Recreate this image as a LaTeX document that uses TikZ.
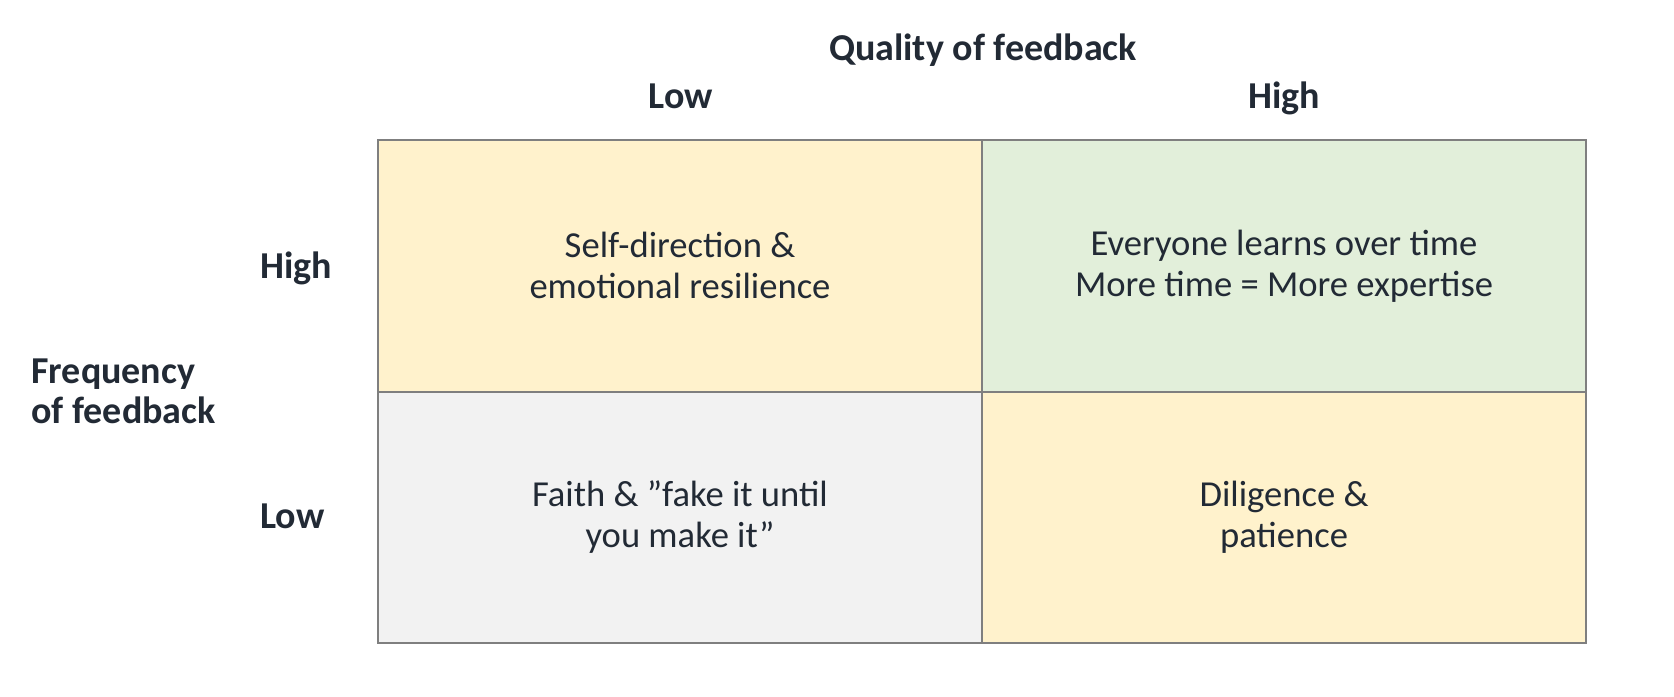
\documentclass[tikz,border=0pt]{standalone}
\usepackage{fontspec}
\setmainfont{Carlito}
\definecolor{txt}{HTML}{222A35}
\definecolor{yel}{HTML}{FFF2CC}
\definecolor{grn}{HTML}{E2EFDA}
\definecolor{gry}{HTML}{F2F2F2}
\definecolor{edge}{HTML}{7F7F7F}
\tikzset{
  cell/.style={draw=edge, line width=1pt, minimum width=302pt, minimum height=125.75pt,
    inner sep=0pt, align=center, text=txt, font=\fontsize{18.3}{20.5}\selectfont},
  lab/.style={text=txt, font=\bfseries\fontsize{19}{20}\selectfont, inner sep=0pt},
}
\begin{document}
\begin{tikzpicture}[x=0.5pt,y=-0.5pt]
\useasboundingbox (0,0) rectangle (1674,696);
\node[cell, fill=yel] (hl) at (680,265.75) {Self-direction \&\\emotional resilience};
\node[cell, fill=grn] (hh) at (1284,265.75) {Everyone learns over time\\More time = More expertise};
\node[cell, fill=gry] (ll) at (680,517.25) {Faith \& ”fake it until\\you make it”};
\node[cell, fill=yel] (lh) at (1284,517.25) {Diligence \&\\patience};
\node[lab, anchor=base] (q) at (983,60) {Quality of feedback};
\node[lab, anchor=base] (qlow) at (681,108) {Low};
\node[lab, anchor=base] (qhigh) at (1284,108) {High};
\node[lab, anchor=base west] (fhigh) at (260,278) {High};
\node[lab, anchor=base west] (flow) at (260,528) {Low};
\node[lab, anchor=base west, align=left] (f) at (31,423) {Frequency\\of feedback};
\end{tikzpicture}
\end{document}
